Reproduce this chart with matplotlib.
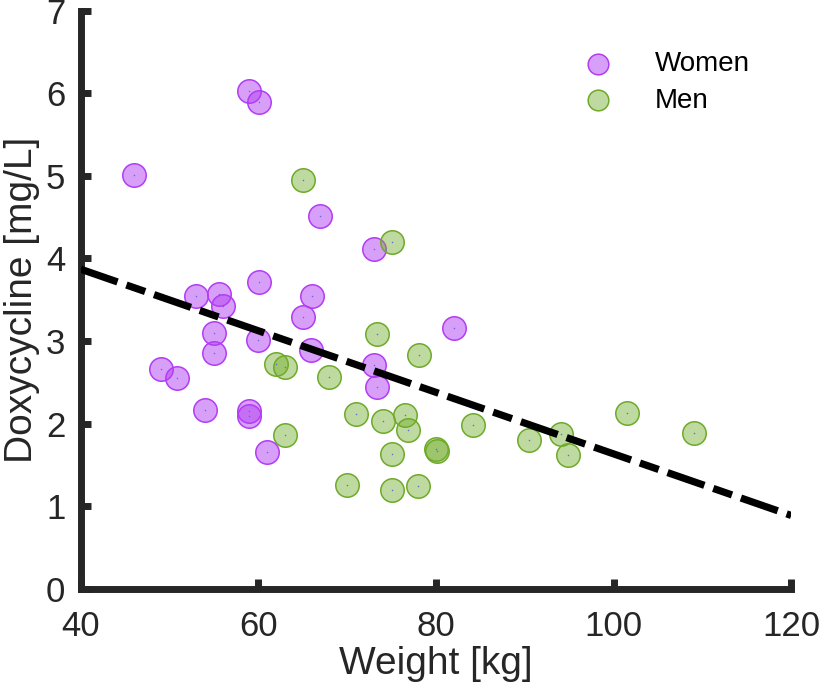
import numpy as np
import matplotlib
matplotlib.use('Agg')
import matplotlib.pyplot as plt

plt.rcParams['font.family'] = ['Liberation Sans', 'DejaVu Sans']

# data
women_weight = [59.0, 60.1, 46.0, 67.0, 73.0, 60.1, 53.0, 55.6, 56.0, 66.0, 65.0, 55.0,
                55.0, 60.0, 65.9, 82.0, 73.0, 73.4, 49.0, 50.9, 54.0, 59.0, 59.0, 61.0]
women_conc = [6.02, 5.89, 5.01, 4.51, 4.11, 3.72, 3.55, 3.57, 3.43, 3.55, 3.29, 3.10,
              2.85, 3.01, 2.89, 3.16, 2.71, 2.44, 2.66, 2.55, 2.16, 2.15, 2.09, 1.66]

men_weight = [65.0, 75.0, 62.0, 63.0, 68.0, 73.4, 78.1, 63.0, 71.0, 74.0, 76.5, 76.8,
              75.0, 80.0, 80.1, 70.0, 75.0, 78.0, 84.2, 90.5, 94.1, 94.9, 101.5, 109.0]
men_conc = [4.95, 4.20, 2.72, 2.69, 2.56, 3.08, 2.83, 1.86, 2.12, 2.03, 2.11, 1.92,
            1.63, 1.69, 1.67, 1.26, 1.20, 1.25, 1.98, 1.80, 1.87, 1.62, 2.13, 1.89]

fit_weight = [40, 120]
fit_conc = [3.87, 0.89]

axis_col = '#262626'

fig = plt.figure(figsize=(8.19, 6.91), dpi=100)
ax = fig.add_axes([0.0985, 0.1476, 0.8676, 0.8372])

w = ax.scatter(women_weight, women_conc, s=285, facecolor=(0.70, 0.25, 0.95, 0.5),
               edgecolor='#B23CF5', linewidth=1.1, label='Women', zorder=2)
m = ax.scatter(men_weight, men_conc, s=285, facecolor=(0.45, 0.68, 0.18, 0.45),
               edgecolor='#6EAA28', linewidth=1.1, label='Men', zorder=3)
# tiny centre dots
ax.scatter(women_weight + men_weight, women_conc + men_conc, s=1.2, color='#5a6fd0',
           linewidth=0, zorder=4)

ax.plot(fit_weight, fit_conc, color='black', linewidth=5.2, dashes=(5.4, 1.3, 2.75, 1.3),
        solid_capstyle='butt', dash_capstyle='butt', zorder=5)

ax.set_xlim(40, 120)
ax.set_ylim(0, 7)
ax.set_xticks(np.arange(40, 121, 20))
ax.set_yticks(np.arange(0, 8, 1))

for side in ['top', 'right']:
    ax.spines[side].set_visible(False)
for side in ['left', 'bottom']:
    ax.spines[side].set_linewidth(5)
    ax.spines[side].set_color(axis_col)
    ax.spines[side].set_capstyle('projecting')

ax.tick_params(axis='both', direction='in', length=7, width=5, color=axis_col,
               labelsize=25, labelcolor=axis_col)
ax.tick_params(axis='x', pad=15)
ax.tick_params(axis='y', pad=11)

ax.set_xlabel('Weight [kg]', fontsize=28, color=axis_col, labelpad=2)
ax.set_ylabel('Doxycycline [mg/L]', fontsize=28, color=axis_col, labelpad=4)

ax.legend(handles=[w, m], loc='upper left', bbox_to_anchor=(0.7128, 0.926),
          bbox_transform=fig.transFigure, frameon=False, borderpad=0, borderaxespad=0,
          handlelength=1.0, handletextpad=1.55, labelspacing=0.38, fontsize=20,
          markerscale=0.88)

plt.savefig('out.png', dpi=100)
plt.close()
